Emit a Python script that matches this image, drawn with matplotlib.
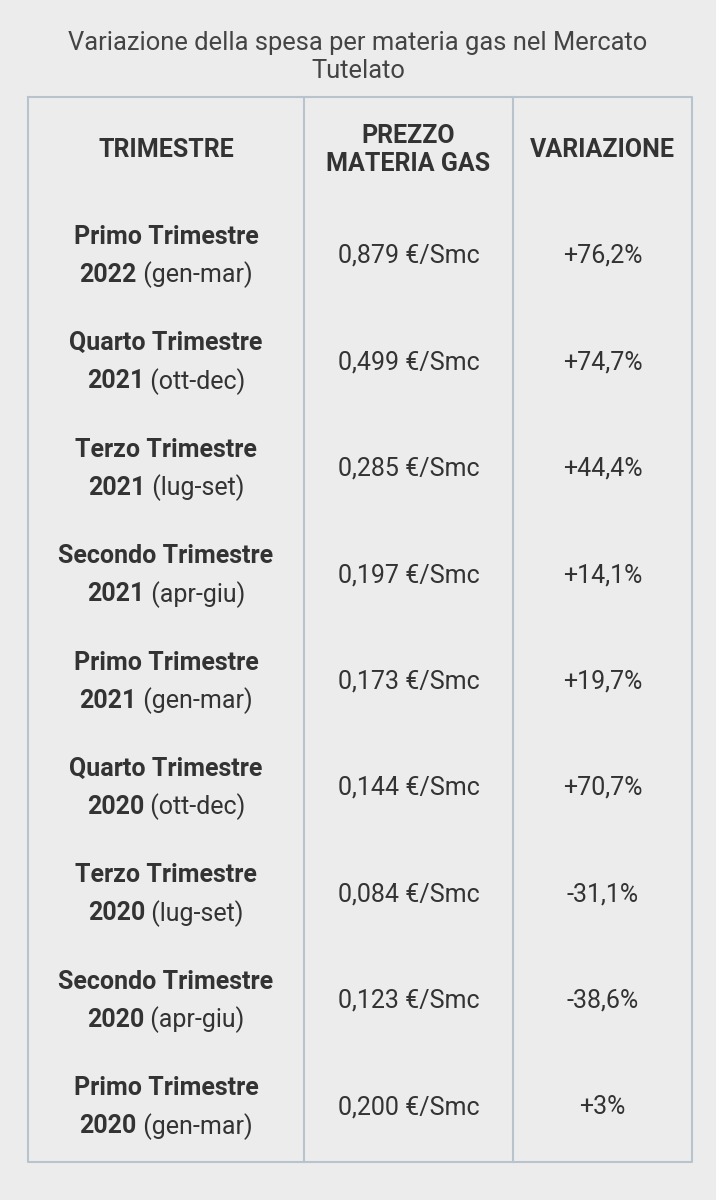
import matplotlib
matplotlib.use("Agg")
import matplotlib.pyplot as plt

plt.rcParams['font.family'] = ['Roboto', 'DejaVu Sans']

title = "Variazione della spesa per materia gas nel Mercato\nTutelato"
headers = ["TRIMESTRE", "PREZZO\nMATERIA GAS", "VARIAZIONE"]
quarters = ["Primo Trimestre", "Quarto Trimestre", "Terzo Trimestre", "Secondo Trimestre",
            "Primo Trimestre", "Quarto Trimestre", "Terzo Trimestre", "Secondo Trimestre",
            "Primo Trimestre"]
years = ["2022", "2021", "2021", "2021", "2021", "2020", "2020", "2020", "2020"]
months = ["(gen-mar)", "(ott-dec)", "(lug-set)", "(apr-giu)", "(gen-mar)",
          "(ott-dec)", "(lug-set)", "(apr-giu)", "(gen-mar)"]
prices = ["0,879 €/Smc", "0,499 €/Smc", "0,285 €/Smc", "0,197 €/Smc", "0,173 €/Smc",
          "0,144 €/Smc", "0,084 €/Smc", "0,123 €/Smc", "0,200 €/Smc"]
changes = ["+76,2%", "+74,7%", "+44,4%", "+14,1%", "+19,7%", "+70,7%", "-31,1%", "-38,6%", "+3%"]

W, H = 716, 1200
bg = "#ececec"
txt = "#333333"
line = "#b9c3ce"
fig = plt.figure(figsize=(W / 100, H / 100), dpi=100, facecolor=bg)
ax = fig.add_axes([0, 0, 1, 1])
ax.set_xlim(0, W)
ax.set_ylim(H, 0)
ax.axis('off')
ax.set_facecolor(bg)

fs = 18
ax.text(W / 2, 57, title, ha='center', va='center', fontsize=18.4, color="#444444", linespacing=1.25)

left, right, top, bottom = 28, 692, 97, 1162
cols = [left, 304, 513, right]
ax.plot([left, right, right, left, left], [top, top, bottom, bottom, top], color=line, lw=1.5)
for x in cols[1:3]:
    ax.plot([x, x], [top, bottom], color=line, lw=1.5)

centers = [(cols[i] + cols[i + 1]) / 2 for i in range(3)]
for c, h in zip(centers, headers):
    ax.text(c, 150, h, ha='center', va='center', fontsize=fs, fontweight='bold', color=txt, linespacing=1.25)

fig.canvas.draw()
r = fig.canvas.get_renderer()
row0, step = 256, 106.4
for i in range(len(quarters)):
    y = row0 + i * step
    ax.text(centers[0], y - 19, quarters[i], ha='center', va='center', fontsize=fs,
            fontweight='bold', color=txt)
    t1 = ax.text(0, y + 19, years[i], ha='left', va='center', fontsize=fs, fontweight='bold', color=txt)
    t2 = ax.text(0, y + 19, " " + months[i], ha='left', va='center', fontsize=fs, color=txt)
    w1 = t1.get_window_extent(r).width
    w2 = t2.get_window_extent(r).width
    x0 = centers[0] - (w1 + w2) / 2
    t1.set_x(x0)
    t2.set_x(x0 + w1)
    ax.text(centers[1], y, prices[i], ha='center', va='center', fontsize=fs, color=txt)
    ax.text(centers[2], y, changes[i], ha='center', va='center', fontsize=fs, color=txt)

fig.savefig("out.png", dpi=100, facecolor=bg)
